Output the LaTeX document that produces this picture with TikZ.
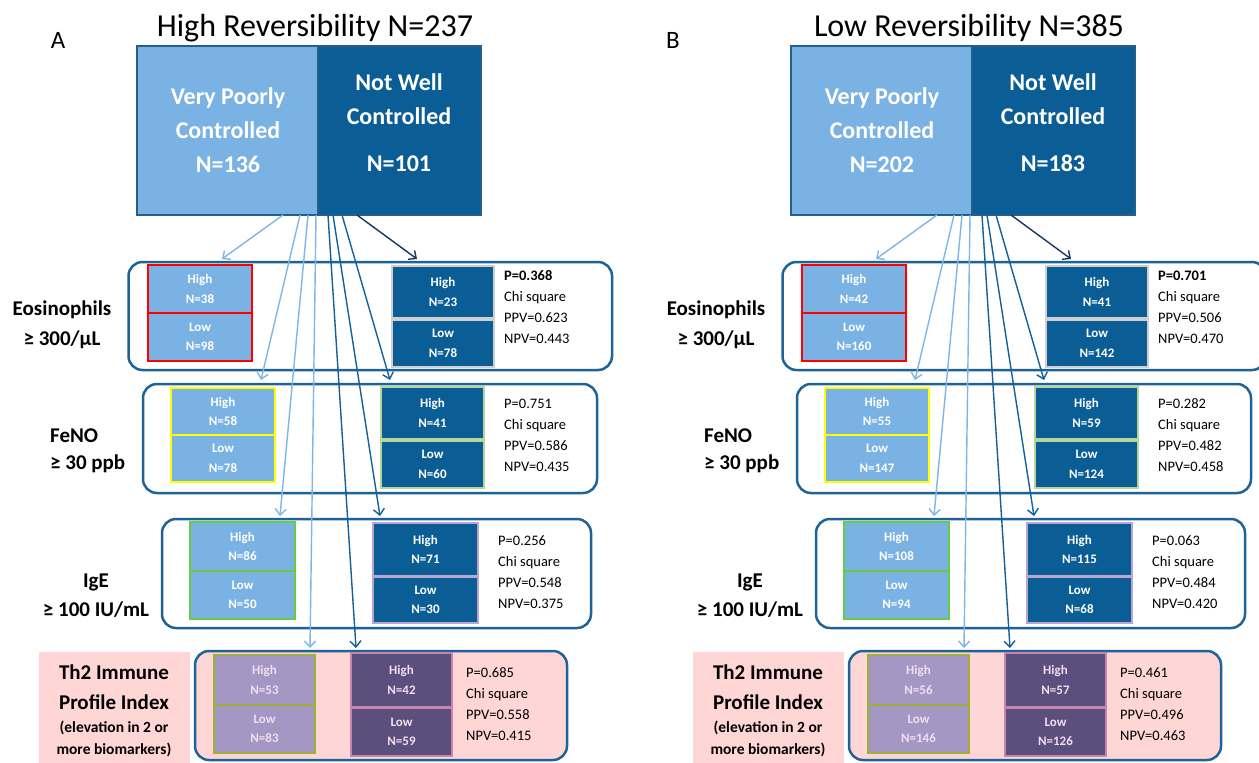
\documentclass[tikz,border=0pt]{standalone}
\usepackage{fontspec}
\setmainfont{Carlito}
\usetikzlibrary{arrows.meta}
\definecolor{lb}{HTML}{7AB2E3}
\definecolor{db}{HTML}{0B5E95}
\definecolor{gb}{HTML}{1D6398}
\definecolor{topb}{HTML}{215F8E}
\definecolor{navyarr}{HTML}{17375E}
\definecolor{arrlb}{HTML}{7DB6E8}
\definecolor{arrdb}{HTML}{13609A}
\definecolor{pinkbg}{HTML}{FFD6D6}
\definecolor{lav}{HTML}{A597C4}
\definecolor{dpur}{HTML}{5B4F7D}
\definecolor{oliveb}{HTML}{9CB136}
\definecolor{pinkb}{HTML}{C884AC}
\definecolor{grayb}{HTML}{CFCFCF}
\definecolor{lgreen}{HTML}{B5D59B}
\definecolor{igegreen}{HTML}{66CC44}
\definecolor{lavb}{HTML}{B9A5CF}
\definecolor{pinktext}{HTML}{F3DDF0}
\definecolor{yelb}{HTML}{FFFF00}
\definecolor{redb}{HTML}{FF0000}
\newcommand\cellbox[7]{\node[#6,minimum width={#4-#2},minimum height={#5-#3}] (#1) at ({(#2+#4)/2},{(#3+#5)/2}) {#7};}
\tikzset{
  titlef/.style={font=\fontsize{32}{34}\selectfont, inner sep=0pt},
  letterf/.style={font=\fontsize{25}{27}\selectfont, inner sep=0pt},
  topbox/.style={draw=topb, line width=2pt, inner sep=0pt},
  toptext/.style={font=\fontsize{24}{34}\selectfont\bfseries, text=white, align=center, inner sep=0pt},
  grp/.style={draw=gb, line width=2.5pt, rounded corners=14pt, inner sep=0pt},
  cell/.style={font=\fontsize{13}{19.5}\selectfont\bfseries, text=white, align=center, inner sep=0pt, line width=2.2pt},
  rowlab/.style={font=\fontsize{21}{30}\selectfont\bfseries, align=center, inner sep=0pt},
  smalllab/.style={font=\fontsize{15.5}{22}\selectfont\bfseries, align=center, inner sep=0pt},
  stat/.style={font=\fontsize{14.5}{21}\selectfont, align=left, anchor=west, inner sep=0pt},
  arrl/.style={draw=arrlb, line width=1.4pt, -{Straight Barb[length=6pt,width=11pt]}},
  arrd/.style={draw=arrdb, line width=1.4pt, -{Straight Barb[length=6pt,width=11pt]}},
  arrn/.style={draw=navyarr, line width=1.4pt, -{Straight Barb[length=6pt,width=11pt]}},
}
\newcommand\panel[1]{%
  \node[titlef] (#1-title) at (315,28) {\pTitle};
  \cellbox{#1-vp}{137}{46}{318}{215}{topbox,fill=lb}{}
  \cellbox{#1-nw}{318}{46}{481}{215}{topbox,fill=db}{}
  \node[toptext] (#1-vpt) at (228,130) {Very Poorly\\Controlled\\N=\pVP};
  \node[toptext] (#1-nwt) at (399,122.5) {Not Well\\Controlled\\[13pt]N=\pNW};
  % Eosinophils
  \cellbox{#1-eos}{128.5}{262}{612}{370}{grp,fill=white}{}
  \node[rowlab] (#1-eoslab) at (62,325) {Eosinophils\\≥ 300/µL};
  \cellbox{#1-eosLH}{148}{265}{252}{313}{cell,fill=lb,draw=redb,line width=2.5pt}{High\\N=\eLH}
  \cellbox{#1-eosLL}{148}{313}{252}{361}{cell,fill=lb,draw=redb,line width=2.5pt}{Low\\N=\eLL}
  \cellbox{#1-eosRH}{392}{266}{494}{318}{cell,fill=db,draw=grayb}{High\\N=\eRH}
  \cellbox{#1-eosRL}{392}{320}{494}{367}{cell,fill=db,draw=grayb}{Low\\N=\eRL}
  \node[stat] (#1-eosst) at (504,307.5) {\textbf{P=\eP}\\Chi square\\PPV=\ePPV\\NPV=\eNPV};
  % FeNO
  \cellbox{#1-feno}{143}{384}{597}{493}{grp,fill=white}{}
  \node[rowlab,align=left,anchor=west,font=\fontsize{21}{27}\selectfont\bfseries] (#1-fenolab) at (50,450.5) {FeNO\\≥ 30 ppb};
  \cellbox{#1-fenoLH}{171}{388}{275}{435}{cell,fill=lb,draw=yelb,line width=2.5pt}{High\\N=\fLH}
  \cellbox{#1-fenoLL}{171}{435}{275}{482}{cell,fill=lb,draw=yelb,line width=2.5pt}{Low\\N=\fLL}
  \cellbox{#1-fenoRH}{381}{387}{484}{439}{cell,fill=db,draw=lgreen}{High\\N=\fRH}
  \cellbox{#1-fenoRL}{381}{441}{484}{488}{cell,fill=db,draw=lgreen}{Low\\N=\fRL}
  \node[stat] (#1-fenost) at (504,435.5) {P=\fP\\Chi square\\PPV=\fPPV\\NPV=\fNPV};
  % IgE
  \cellbox{#1-ige}{162}{519}{591}{628}{grp,fill=white}{}
  \node[rowlab,font=\fontsize{21}{29}\selectfont\bfseries] (#1-igelab) at (96,595.5) {IgE\\≥ 100 IU/mL};
  \cellbox{#1-igeLH}{190}{522}{295}{571}{cell,fill=lb,draw=igegreen,line width=2.5pt}{High\\N=\iLH}
  \cellbox{#1-igeLL}{190}{571}{295}{619}{cell,fill=lb,draw=igegreen,line width=2.5pt}{Low\\N=\iLL}
  \cellbox{#1-igeRH}{373}{523}{478}{576}{cell,fill=db,draw=lavb}{High\\N=\iRH}
  \cellbox{#1-igeRL}{373}{577}{478}{623}{cell,fill=db,draw=lavb}{Low\\N=\iRL}
  \node[stat] (#1-igest) at (498,572.5) {P=\iP\\Chi square\\PPV=\iPPV\\NPV=\iNPV};
  % Th2
  \cellbox{#1-thbg}{39}{652}{190}{770}{fill=pinkbg,inner sep=0pt}{}
  \node[rowlab] (#1-thlab) at (114,687) {Th2 Immune\\Profile Index};
  \node[smalllab] (#1-thsub) at (114,739) {(elevation in 2 or\\more biomarkers)};
  \cellbox{#1-th}{195}{651}{567}{760}{grp,fill=pinkbg}{}
  \cellbox{#1-thLH}{214}{655}{315}{705}{cell,fill=lav,draw=oliveb,text=pinktext,line width=2.5pt}{High\\N=\tLH}
  \cellbox{#1-thLL}{214}{705}{315}{753}{cell,fill=lav,draw=oliveb,text=pinktext,line width=2.5pt}{Low\\N=\tLL}
  \cellbox{#1-thRH}{351}{653}{452}{707}{cell,fill=dpur,draw=pinkb,text=pinktext}{High\\N=\tRH}
  \cellbox{#1-thRL}{351}{708}{452}{756}{cell,fill=dpur,draw=pinkb,text=pinktext}{Low\\N=\tRL}
  \node[stat] (#1-thst) at (466,704.5) {P=\tP\\Chi square\\PPV=\tPPV\\NPV=\tNPV};
  % connectors
  \coordinate (#1-s1) at (283,215); \coordinate (#1-e1) at (222,259);
  \coordinate (#1-s2) at (300,215); \coordinate (#1-e2) at (261,380);
  \coordinate (#1-s3) at (308,215); \coordinate (#1-e3) at (280,516);
  \coordinate (#1-s4) at (316,215); \coordinate (#1-e4) at (310,648);
  \coordinate (#1-s5) at (328,215); \coordinate (#1-e5) at (356,648);
  \coordinate (#1-s6) at (333,215); \coordinate (#1-e6) at (380,516);
  \coordinate (#1-s7) at (342,215); \coordinate (#1-e7) at (390,380);
  \coordinate (#1-s8) at (357,215); \coordinate (#1-e8) at (417,259);
  \draw[arrl] (#1-s1) -- (#1-e1);
  \draw[arrl] (#1-s2) -- (#1-e2);
  \draw[arrl] (#1-s3) -- (#1-e3);
  \draw[arrl] (#1-s4) -- (#1-e4);
  \draw[arrd] (#1-s5) -- (#1-e5);
  \draw[arrd] (#1-s6) -- (#1-e6);
  \draw[arrd] (#1-s7) -- (#1-e7);
  \draw[arrn] (#1-s8) -- (#1-e8);
}
\begin{document}
\begin{tikzpicture}[x=1pt,y=-1pt]
\useasboundingbox (0,0) rectangle (1259,763);
\fill[white] (0,0) rectangle (1259,763);
\node[letterf] (labA) at (58,40) {A};
\node[letterf] (labB) at (673,40) {B};
\begin{scope}
  \def\pTitle{High Reversibility N=237}\def\pVP{136}\def\pNW{101}
  \def\eLH{38}\def\eLL{98}\def\eRH{23}\def\eRL{78}\def\eP{0.368}\def\ePPV{0.623}\def\eNPV{0.443}
  \def\fLH{58}\def\fLL{78}\def\fRH{41}\def\fRL{60}\def\fP{0.751}\def\fPPV{0.586}\def\fNPV{0.435}
  \def\iLH{86}\def\iLL{50}\def\iRH{71}\def\iRL{30}\def\iP{0.256}\def\iPPV{0.548}\def\iNPV{0.375}
  \def\tLH{53}\def\tLL{83}\def\tRH{42}\def\tRL{59}\def\tP{0.685}\def\tPPV{0.558}\def\tNPV{0.415}
  \panel{A}
\end{scope}
\begin{scope}[xshift=654pt]
  \def\pTitle{Low Reversibility N=385}\def\pVP{202}\def\pNW{183}
  \def\eLH{42}\def\eLL{160}\def\eRH{41}\def\eRL{142}\def\eP{0.701}\def\ePPV{0.506}\def\eNPV{0.470}
  \def\fLH{55}\def\fLL{147}\def\fRH{59}\def\fRL{124}\def\fP{0.282}\def\fPPV{0.482}\def\fNPV{0.458}
  \def\iLH{108}\def\iLL{94}\def\iRH{115}\def\iRL{68}\def\iP{0.063}\def\iPPV{0.484}\def\iNPV{0.420}
  \def\tLH{56}\def\tLL{146}\def\tRH{57}\def\tRL{126}\def\tP{0.461}\def\tPPV{0.496}\def\tNPV{0.463}
  \panel{B}
\end{scope}
\end{tikzpicture}
\end{document}
